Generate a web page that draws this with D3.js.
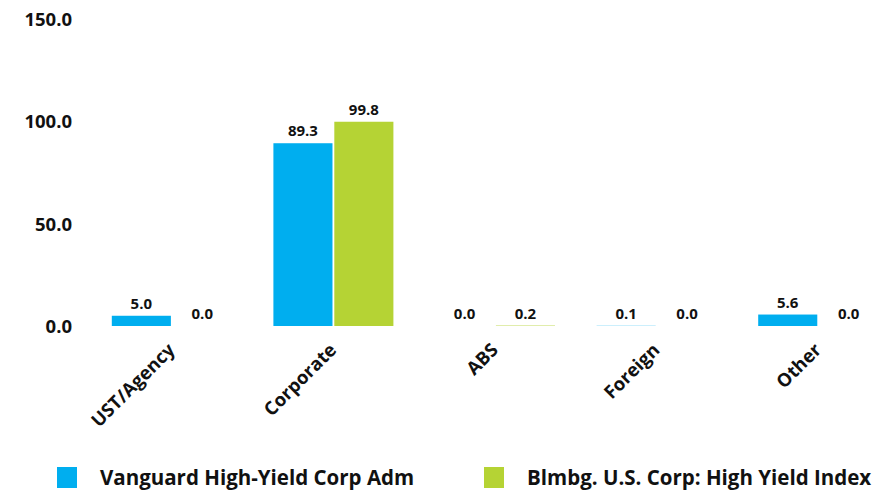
<!DOCTYPE html>
<html><head><meta charset="utf-8">
<script src="https://cdn.jsdelivr.net/npm/d3@7"></script>
<style>body{margin:0;background:#fff}svg{display:block}text{font-family:"Open Sans",sans-serif;font-weight:700;fill:#111}</style>
</head><body><svg id="c" width="895" height="495"></svg>
<script>
const categories = ["UST/Agency","Corporate","ABS","Foreign","Other"];
const seriesNames = ["Vanguard High-Yield Corp Adm","Blmbg. U.S. Corp: High Yield Index"];
const fundValues = [5.0, 89.3, 0.0, 0.1, 5.6];
const indexValues = [0.0, 99.8, 0.2, 0.0, 0.0];
const yTicks = [0, 50, 100, 150];
const colors = ["#00AEEF","#B5D334"];

const svg = d3.select("#c");
const x = d3.scaleBand().domain(categories).range([91, 899]);
const y = d3.scaleLinear().domain([0,150]).range([326, 19]);
const inner = d3.scaleBand().domain([0,1]).range([-60, 60]).paddingInner(0.03);

// y axis labels
const yAxis = d3.axisLeft(y).tickValues(yTicks).tickFormat(d3.format(".1f")).tickSize(0).tickPadding(0);
const ga = svg.append("g").attr("transform","translate(72,0)").call(yAxis);
ga.select(".domain").remove();
ga.selectAll("text").attr("font-size",18.5).attr("font-family","'Open Sans',sans-serif").attr("font-weight",700).attr("fill","#111").attr("dy","0.35em");

const series = [fundValues, indexValues];
series.forEach((vals, si) => {
  const g = svg.append("g");
  categories.forEach((c, i) => {
    const cx = x(c) + x.bandwidth()/2;
    const bx = cx + inner(si);
    const v = vals[i];
    g.append("rect").attr("x", bx).attr("width", inner.bandwidth())
      .attr("y", y(v)).attr("height", y(0)-y(v)).attr("fill", colors[si]);
    g.append("text").attr("x", bx + inner.bandwidth()/2).attr("y", y(v) - 7)
      .attr("text-anchor","middle").attr("font-size",15).text(d3.format(".1f")(v));
  });
});

// x labels
categories.forEach(c => {
  const cx = x(c) + x.bandwidth()/2 - 5;
  svg.append("text").attr("transform",`translate(${cx},342) rotate(-45)`)
    .attr("text-anchor","end").attr("dy","0.7em").attr("font-size",18.5).text(c);
});

// legend
const legX = [57, 484];
seriesNames.forEach((n, i) => {
  svg.append("rect").attr("x", legX[i]).attr("y", 467).attr("width", 20).attr("height", 21).attr("fill", colors[i]);
  svg.append("text").attr("x", legX[i]+43).attr("y", 478).attr("dy","0.35em")
    .attr("font-family","'Liberation Sans Narrow','DejaVu Sans Condensed',sans-serif")
    .attr("font-size",20.5).text(n);
});
</script></body></html>
